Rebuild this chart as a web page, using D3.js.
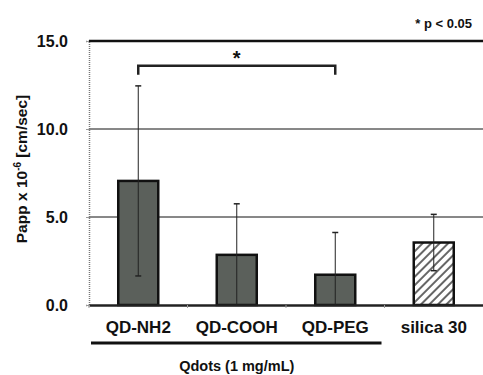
<!DOCTYPE html>
<html>
<head>
<meta charset="utf-8">
<script src="https://cdn.jsdelivr.net/npm/d3@7"></script>
<style>
  body { margin: 0; background: #fff; }
  text { font-family: "Liberation Sans", Arial, sans-serif; font-weight: bold; fill: #111; }
</style>
</head>
<body>
<div id="chart"></div>
<script>
// data
var categories = ["QD-NH2", "QD-COOH", "QD-PEG", "silica 30"];
var means = [7.05, 2.85, 1.72, 3.55];
var errors = [5.4, 2.9, 2.4, 1.6];
var hatched = [false, false, false, true];
var yTicks = [0, 5, 10, 15];

var margin = {top: 41, right: 0, bottom: 70, left: 89},
    width = 483 - margin.left - margin.right,
    height = 375 - margin.top - margin.bottom;

var svg = d3.select("#chart")
  .append("svg")
    .attr("width", 483)
    .attr("height", 375);

var defs = svg.append("defs");
var pat = defs.append("pattern")
    .attr("id", "hatch")
    .attr("patternUnits", "userSpaceOnUse")
    .attr("width", 6).attr("height", 6)
    .attr("patternTransform", "rotate(45)");
pat.append("rect").attr("width", 6).attr("height", 6).attr("fill", "#fff");
pat.append("rect").attr("width", 2).attr("height", 6).attr("fill", "#666");

var g = svg.append("g")
    .attr("transform", "translate(" + margin.left + "," + margin.top + ")");

var x = d3.scaleBand()
    .domain(categories)
    .range([0, width])
    .padding(0);

var y = d3.scaleLinear()
    .domain([0, 15])
    .range([height, 0]);

// grid lines
g.selectAll(".grid")
  .data(yTicks.filter(function(d) { return d > 0; }))
  .enter().append("line")
    .attr("x1", 0).attr("x2", width)
    .attr("y1", function(d) { return y(d); })
    .attr("y2", function(d) { return y(d); })
    .attr("stroke", "#111")
    .attr("stroke-width", function(d) { return d === 15 ? 2.5 : 1; });

// y axis
var yAxis = g.append("g")
    .call(d3.axisLeft(y).tickValues(yTicks).tickFormat(d3.format(".1f")).tickSize(3).tickPadding(18));
yAxis.select(".domain").attr("stroke", "#777").attr("stroke-width", 1.5).attr("stroke-dasharray", "1,1");
yAxis.selectAll(".tick line").attr("stroke", "#999");
yAxis.selectAll("text").style("font-size", "16px").attr("fill", "#111");

// bars
g.selectAll(".bar")
  .data(categories)
  .enter().append("rect")
    .attr("x", function(d) { return x(d) + x.bandwidth() / 2 - 20; })
    .attr("width", 40)
    .attr("y", function(d, i) { return y(means[i]); })
    .attr("height", function(d, i) { return y(0) - y(means[i]); })
    .attr("fill", function(d, i) { return hatched[i] ? "url(#hatch)" : "#5b605b"; })
    .attr("stroke", "#111")
    .attr("stroke-width", 2.5);

// error bars
var eb = g.selectAll(".err")
  .data(categories)
  .enter().append("g")
    .attr("transform", function(d) { return "translate(" + (x(d) + x.bandwidth() / 2) + ",0)"; });
eb.append("line")
    .attr("y1", function(d, i) { return y(Math.max(0, means[i] - errors[i])); })
    .attr("y2", function(d, i) { return y(means[i] + errors[i]); })
    .attr("stroke", "#222").attr("stroke-width", 1);
eb.append("line")
    .attr("x1", -3).attr("x2", 3)
    .attr("y1", function(d, i) { return y(means[i] + errors[i]); })
    .attr("y2", function(d, i) { return y(means[i] + errors[i]); })
    .attr("stroke", "#222").attr("stroke-width", 1.5);
eb.filter(function(d, i) { return means[i] - errors[i] > 0; })
  .append("line")
    .attr("x1", -3).attr("x2", 3)
    .attr("y1", function(d) { var i = categories.indexOf(d); return y(means[i] - errors[i]); })
    .attr("y2", function(d) { var i = categories.indexOf(d); return y(means[i] - errors[i]); })
    .attr("stroke", "#222").attr("stroke-width", 1.5);

// x axis
var xAxis = g.append("g")
    .attr("transform", "translate(0," + height + ")")
    .call(d3.axisBottom(x).tickSize(0).tickPadding(16));
xAxis.select(".domain").attr("stroke", "#222").attr("stroke-width", 2.5);
xAxis.selectAll("text").style("font-size", "17px").attr("fill", "#111");
// band separator ticks
g.selectAll(".sep")
  .data(categories)
  .enter().append("line")
    .attr("x1", function(d) { return x(d); }).attr("x2", function(d) { return x(d); })
    .attr("y1", height).attr("y2", height + 3)
    .attr("stroke", "#999");

// significance bracket
var bx1 = x("QD-NH2") + x.bandwidth() / 2,
    bx2 = x("QD-PEG") + x.bandwidth() / 2,
    by = y(13.6);
g.append("path")
    .attr("d", "M" + bx1 + "," + (by + 9) + "V" + by + "H" + bx2 + "V" + (by + 9))
    .attr("fill", "none")
    .attr("stroke", "#222")
    .attr("stroke-width", 2.5);
g.append("text")
    .attr("x", (bx1 + bx2) / 2)
    .attr("y", by - 1)
    .attr("text-anchor", "middle")
    .style("font-size", "20px")
    .text("*");

// group underline
g.append("line")
    .attr("x1", x("QD-NH2") + 2).attr("x2", x("QD-PEG") + x.bandwidth() - 3)
    .attr("y1", height + 38).attr("y2", height + 38)
    .attr("stroke", "#111").attr("stroke-width", 3);

svg.append("text")
    .attr("x", margin.left + (x("QD-PEG") + x.bandwidth()) / 2)
    .attr("y", 371)
    .attr("text-anchor", "middle")
    .style("font-size", "14.5px")
    .text("Qdots (1 mg/mL)");

svg.append("text")
    .attr("x", 472)
    .attr("y", 28)
    .attr("text-anchor", "end")
    .style("font-size", "13px")
    .text("* p < 0.05");

// y label
var yl = svg.append("text")
    .attr("transform", "translate(27," + 169 + ") rotate(-90)")
    .attr("text-anchor", "middle")
    .style("font-size", "15.5px");
yl.append("tspan").text("Papp x 10");
yl.append("tspan").attr("dy", -6).style("font-size", "10px").text("-6");
yl.append("tspan").attr("dy", 6).text(" [cm/sec]");
</script>
</body>
</html>
